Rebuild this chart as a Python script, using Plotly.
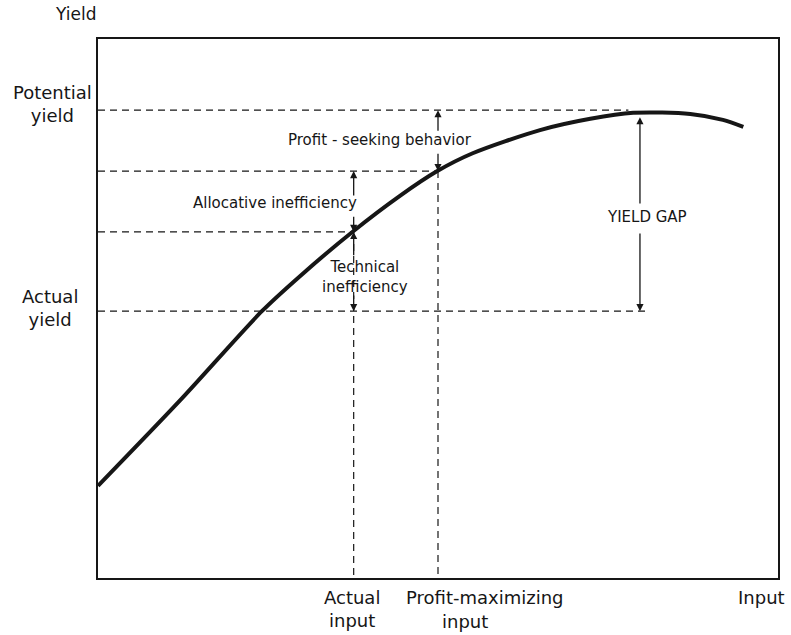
import plotly.graph_objects as go

# production function (input units, yield units)
input_pts = [0, 12.1, 24.1, 29.7, 37.4, 44.4, 49.9, 55.1, 65.0, 72.4, 78.7, 87.1, 91.9, 94.9]
yield_pts = [17.1, 33.0, 49.5, 56.0, 64.2, 70.9, 75.5, 78.8, 83.1, 85.2, 86.3, 86.1, 85.0, 83.7]

# reference levels
potential_yield = 86.8
pm_yield = 75.5        # yield at profit-maximizing input
ai_yield = 64.2        # yield at actual input on the curve
actual_yield = 49.5

actual_input = 37.6
pm_input = 50.0
gap_input = 79.7

INK = "#161616"
FONT = "DejaVu Sans"

fig = go.Figure()

dash = dict(color=INK, width=1.2, dash="7px,5px")

# horizontal guides
for lvl, x_end in [(potential_yield, 78.0), (pm_yield, pm_input), (ai_yield, actual_input), (actual_yield, 80.7)]:
    fig.add_trace(go.Scatter(x=[0, x_end], y=[lvl, lvl], mode="lines", line=dash, hoverinfo="skip"))

# vertical guides
for xv, y_top in [(actual_input, ai_yield), (pm_input, pm_yield)]:
    fig.add_trace(go.Scatter(x=[xv, xv], y=[y_top, 0], mode="lines", line=dash, hoverinfo="skip"))

fig.add_trace(go.Scatter(x=input_pts, y=yield_pts, mode="lines",
                         line=dict(color=INK, width=4, shape="spline", smoothing=0.8),
                         hoverinfo="skip"))

ann = []


def arrow(x, tip, tail):
    ann.append(dict(x=x, y=tip, ax=x, ay=tail, xref="x", yref="y", axref="x", ayref="y", text="",
                    showarrow=True, arrowhead=2, arrowsize=1.1, arrowwidth=1.3, arrowcolor=INK, standoff=0))


def label(x, y, text, size=15, xref="x", yref="y"):
    ann.append(dict(x=x, y=y, xref=xref, yref=yref, text=text, showarrow=False,
                    xanchor="center", yanchor="middle", align="center",
                    font=dict(family=FONT, size=size, color=INK)))


# profit-seeking behavior
arrow(pm_input, potential_yield, 82.7)
arrow(pm_input, pm_yield, 79.0)
label(41.5, 81.3, "Profit - seeking behavior")

# allocative inefficiency
arrow(actual_input, pm_yield, 70.7)
arrow(actual_input, ai_yield, 67.3)
label(26.0, 69.6, "Allocative inefficiency")

# technical inefficiency
arrow(actual_input, ai_yield, 59.6)
arrow(actual_input, actual_yield, 52.7)
label(39.3, 55.8, "Technical<br>inefficiency")

# yield gap
arrow(gap_input, 85.5, 69.2)
arrow(gap_input, actual_yield, 64.2)
label(80.7, 67.0, "YIELD GAP")

# axis labels
label(-46 / 680, 88.0, "Potential<br>yield", size=18, xref="paper")
label(-48 / 680, 50.1, "Actual<br>yield", size=18, xref="paper")
ann.append(dict(x=0, y=1.0, xref="paper", yref="paper", xanchor="right", yanchor="bottom", yshift=13,
                text="Yield", showarrow=False, font=dict(family=FONT, size=17, color=INK)))
label(37.4, -0.058, "Actual<br>input", size=18, yref="paper")
label(56.8, -0.0353, "Profit-maximizing", size=18, yref="paper")
label(54.0, -0.0816, "input", size=18, yref="paper")
label(97.6, -0.0353, "Input", size=18, yref="paper")

fig.update_layout(
    width=791, height=635,
    margin=dict(l=98, r=13, t=39, b=57),
    plot_bgcolor="white", paper_bgcolor="white",
    showlegend=False,
    annotations=ann,
)
axis = dict(showgrid=False, zeroline=False, showticklabels=False, ticks="",
            showline=True, mirror=True, linecolor=INK, linewidth=1.8)
fig.update_xaxes(range=[0, 100], **axis)
fig.update_yaxes(range=[0, 100], **axis)

fig.write_html("out.html", config={"displayModeBar": False},
               post_script="document.body.style.margin = '0';")
